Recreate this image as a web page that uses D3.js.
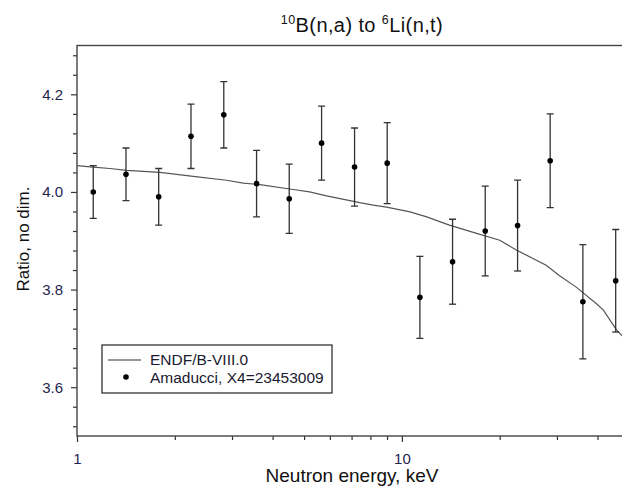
<!DOCTYPE html>
<html>
<head>
<meta charset="utf-8">
<script src="https://cdn.jsdelivr.net/npm/d3@7"></script>
<style>
  body { margin: 0; background: #fff; }
  svg { display: block; font-family: "Liberation Sans", Arial, sans-serif; }
</style>
</head>
<body>
<div id="chart"></div>
<script>
// measured points (Amaducci, X4=23453009)
var energy = [1.122, 1.415, 1.784, 2.243, 2.83, 3.57, 4.5, 5.66, 7.15, 9.01, 11.36, 14.32, 18.05, 22.7, 28.6, 36.06, 45.5]
var ratio  = [4.000, 4.036, 3.990, 4.114, 4.158, 4.017, 3.986, 4.100, 4.051, 4.059, 3.784, 3.857, 3.920, 3.931, 4.064, 3.775, 3.818]
var ratioErr = [0.054, 0.054, 0.058, 0.066, 0.068, 0.068, 0.071, 0.076, 0.080, 0.083, 0.084, 0.087, 0.092, 0.093, 0.096, 0.117, 0.105]

// evaluated curve ENDF/B-VIII.0
var endfEnergy = [1.0, 1.12, 1.263, 1.422, 1.8, 2.28, 2.886, 3.25, 3.655, 4.63, 5.2, 5.86, 7.42, 8.16, 8.97, 10.6, 11.92, 14.0, 16.98, 20.0, 22.5, 27.8, 30.5, 34.4, 39.7, 41.7, 45.7, 47.5, 50]
var endfRatio  = [4.054, 4.051, 4.048, 4.044, 4.040, 4.032, 4.024, 4.018, 4.015, 4.005, 4.000, 3.992, 3.978, 3.973, 3.969, 3.959, 3.949, 3.932, 3.915, 3.901, 3.881, 3.850, 3.829, 3.805, 3.771, 3.758, 3.718, 3.706, 3.690]

var xMajor = [1, 10]
var xMinor = [2, 3, 4, 5, 6, 7, 8, 9, 20, 30, 40, 50]
var yMajor = [3.6, 3.8, 4.0, 4.2]
var yMinor = [3.52, 3.56, 3.64, 3.68, 3.72, 3.76, 3.84, 3.88, 3.92, 3.96, 4.04, 4.08, 4.12, 4.16, 4.24, 4.28]

var legendLabels = ["ENDF/B-VIII.0", "Amaducci, X4=23453009"]

var width = 622, height = 497
var plotLeft = 77, plotRight = 629, plotTop = 45.5, plotBottom = 436

var x = d3.scaleLog().domain([1, 50]).range([plotLeft, plotRight])
var y = d3.scaleLinear().domain([3.5, 4.3]).range([plotBottom, plotTop])

var svg = d3.select("#chart").append("svg")
  .attr("width", width)
  .attr("height", height)

svg.append("defs").append("clipPath").attr("id", "plotclip")
  .append("rect").attr("x", plotLeft).attr("y", plotTop)
  .attr("width", plotRight - plotLeft).attr("height", plotBottom - plotTop)

// y axis ticks
svg.append("g").attr("transform", "translate(" + plotLeft + ",0)")
  .call(d3.axisLeft(y).tickValues(yMinor).tickSize(4).tickFormat(""))
svg.append("g").attr("transform", "translate(" + plotLeft + ",0)")
  .call(d3.axisLeft(y).tickValues(yMajor).tickSize(6).tickPadding(8).tickFormat(d3.format(".1f")))

// x axis ticks
svg.append("g").attr("transform", "translate(0," + plotBottom + ")")
  .call(d3.axisBottom(x).tickValues(xMinor).tickSize(4).tickFormat(""))
svg.append("g").attr("transform", "translate(0," + plotBottom + ")")
  .call(d3.axisBottom(x).tickValues(xMajor).tickSize(6).tickPadding(11).tickFormat(d3.format("d")))

svg.selectAll(".domain").remove()
svg.selectAll(".tick line").attr("stroke", "#333").attr("stroke-width", 1.2)
svg.selectAll(".tick text").style("font-size", "15px").attr("fill", "#1f2550")

// frame
svg.append("rect")
  .attr("x", plotLeft).attr("y", plotTop)
  .attr("width", plotRight - plotLeft).attr("height", plotBottom - plotTop)
  .attr("fill", "none").attr("stroke", "#444").attr("stroke-width", 1.4)

var plot = svg.append("g").attr("clip-path", "url(#plotclip)")

// ENDF curve
var line = d3.line()
  .x(function(d){ return x(d[0]) })
  .y(function(d){ return y(d[1]) })

plot.append("path")
  .attr("d", line(endfEnergy.map(function(e, i){ return [e, endfRatio[i]] })))
  .attr("fill", "none")
  .attr("stroke", "#555")
  .attr("stroke-width", 1.2)

// error bars
var pts = energy.map(function(e, i){ return {e: e, r: ratio[i], d: ratioErr[i]} })
var bars = plot.selectAll(".err").data(pts).enter().append("g").attr("class", "err")
  .attr("stroke", "#333").attr("stroke-width", 1.3)
bars.append("line")
  .attr("x1", function(d){ return x(d.e) }).attr("x2", function(d){ return x(d.e) })
  .attr("y1", function(d){ return y(d.r + d.d) }).attr("y2", function(d){ return y(d.r - d.d) })
bars.append("line")
  .attr("x1", function(d){ return x(d.e) - 3.5 }).attr("x2", function(d){ return x(d.e) + 3.5 })
  .attr("y1", function(d){ return y(d.r + d.d) }).attr("y2", function(d){ return y(d.r + d.d) })
bars.append("line")
  .attr("x1", function(d){ return x(d.e) - 3.5 }).attr("x2", function(d){ return x(d.e) + 3.5 })
  .attr("y1", function(d){ return y(d.r - d.d) }).attr("y2", function(d){ return y(d.r - d.d) })

plot.selectAll(".dot").data(pts).enter().append("circle")
  .attr("class", "dot")
  .attr("cx", function(d){ return x(d.e) })
  .attr("cy", function(d){ return y(d.r) })
  .attr("r", 2.8)
  .attr("fill", "#000")

// legend
var lg = svg.append("g")
lg.append("rect")
  .attr("x", 102).attr("y", 345).attr("width", 230).attr("height", 48)
  .attr("fill", "#fff").attr("stroke", "#333").attr("stroke-width", 1.3)
lg.append("line").attr("x1", 108).attr("x2", 141).attr("y1", 360).attr("y2", 360)
  .attr("stroke", "#333").attr("stroke-width", 1.2)
lg.append("circle").attr("cx", 126).attr("cy", 377).attr("r", 2.8).attr("fill", "#000")
lg.selectAll("text").data(legendLabels).enter().append("text")
  .attr("x", 150)
  .attr("y", function(d, i){ return 365 + i * 17.5 })
  .text(function(d){ return d })
  .style("font-size", "15.5px")
  .attr("fill", "#1a1a30")

// title
var title = svg.append("text")
  .attr("x", 362).attr("y", 32)
  .attr("text-anchor", "middle")
  .style("font-size", "20px")
  .style("letter-spacing", "0.4px")
  .attr("fill", "#111")
title.append("tspan").text("10").style("font-size", "12.5px").attr("dy", "-8")
title.append("tspan").text("B(n,a) to ").attr("dy", "8")
title.append("tspan").text("6").style("font-size", "12.5px").attr("dy", "-8")
title.append("tspan").text("Li(n,t)").attr("dy", "8")

// axis titles
svg.append("text")
  .attr("x", 352).attr("y", 482)
  .attr("text-anchor", "middle")
  .style("font-size", "19px")
  .attr("fill", "#111")
  .text("Neutron energy, keV")

svg.append("text")
  .attr("transform", "translate(29,239) rotate(-90)")
  .attr("text-anchor", "middle")
  .style("font-size", "17px")
  .attr("fill", "#111")
  .text("Ratio, no dim.")
</script>
</body>
</html>
